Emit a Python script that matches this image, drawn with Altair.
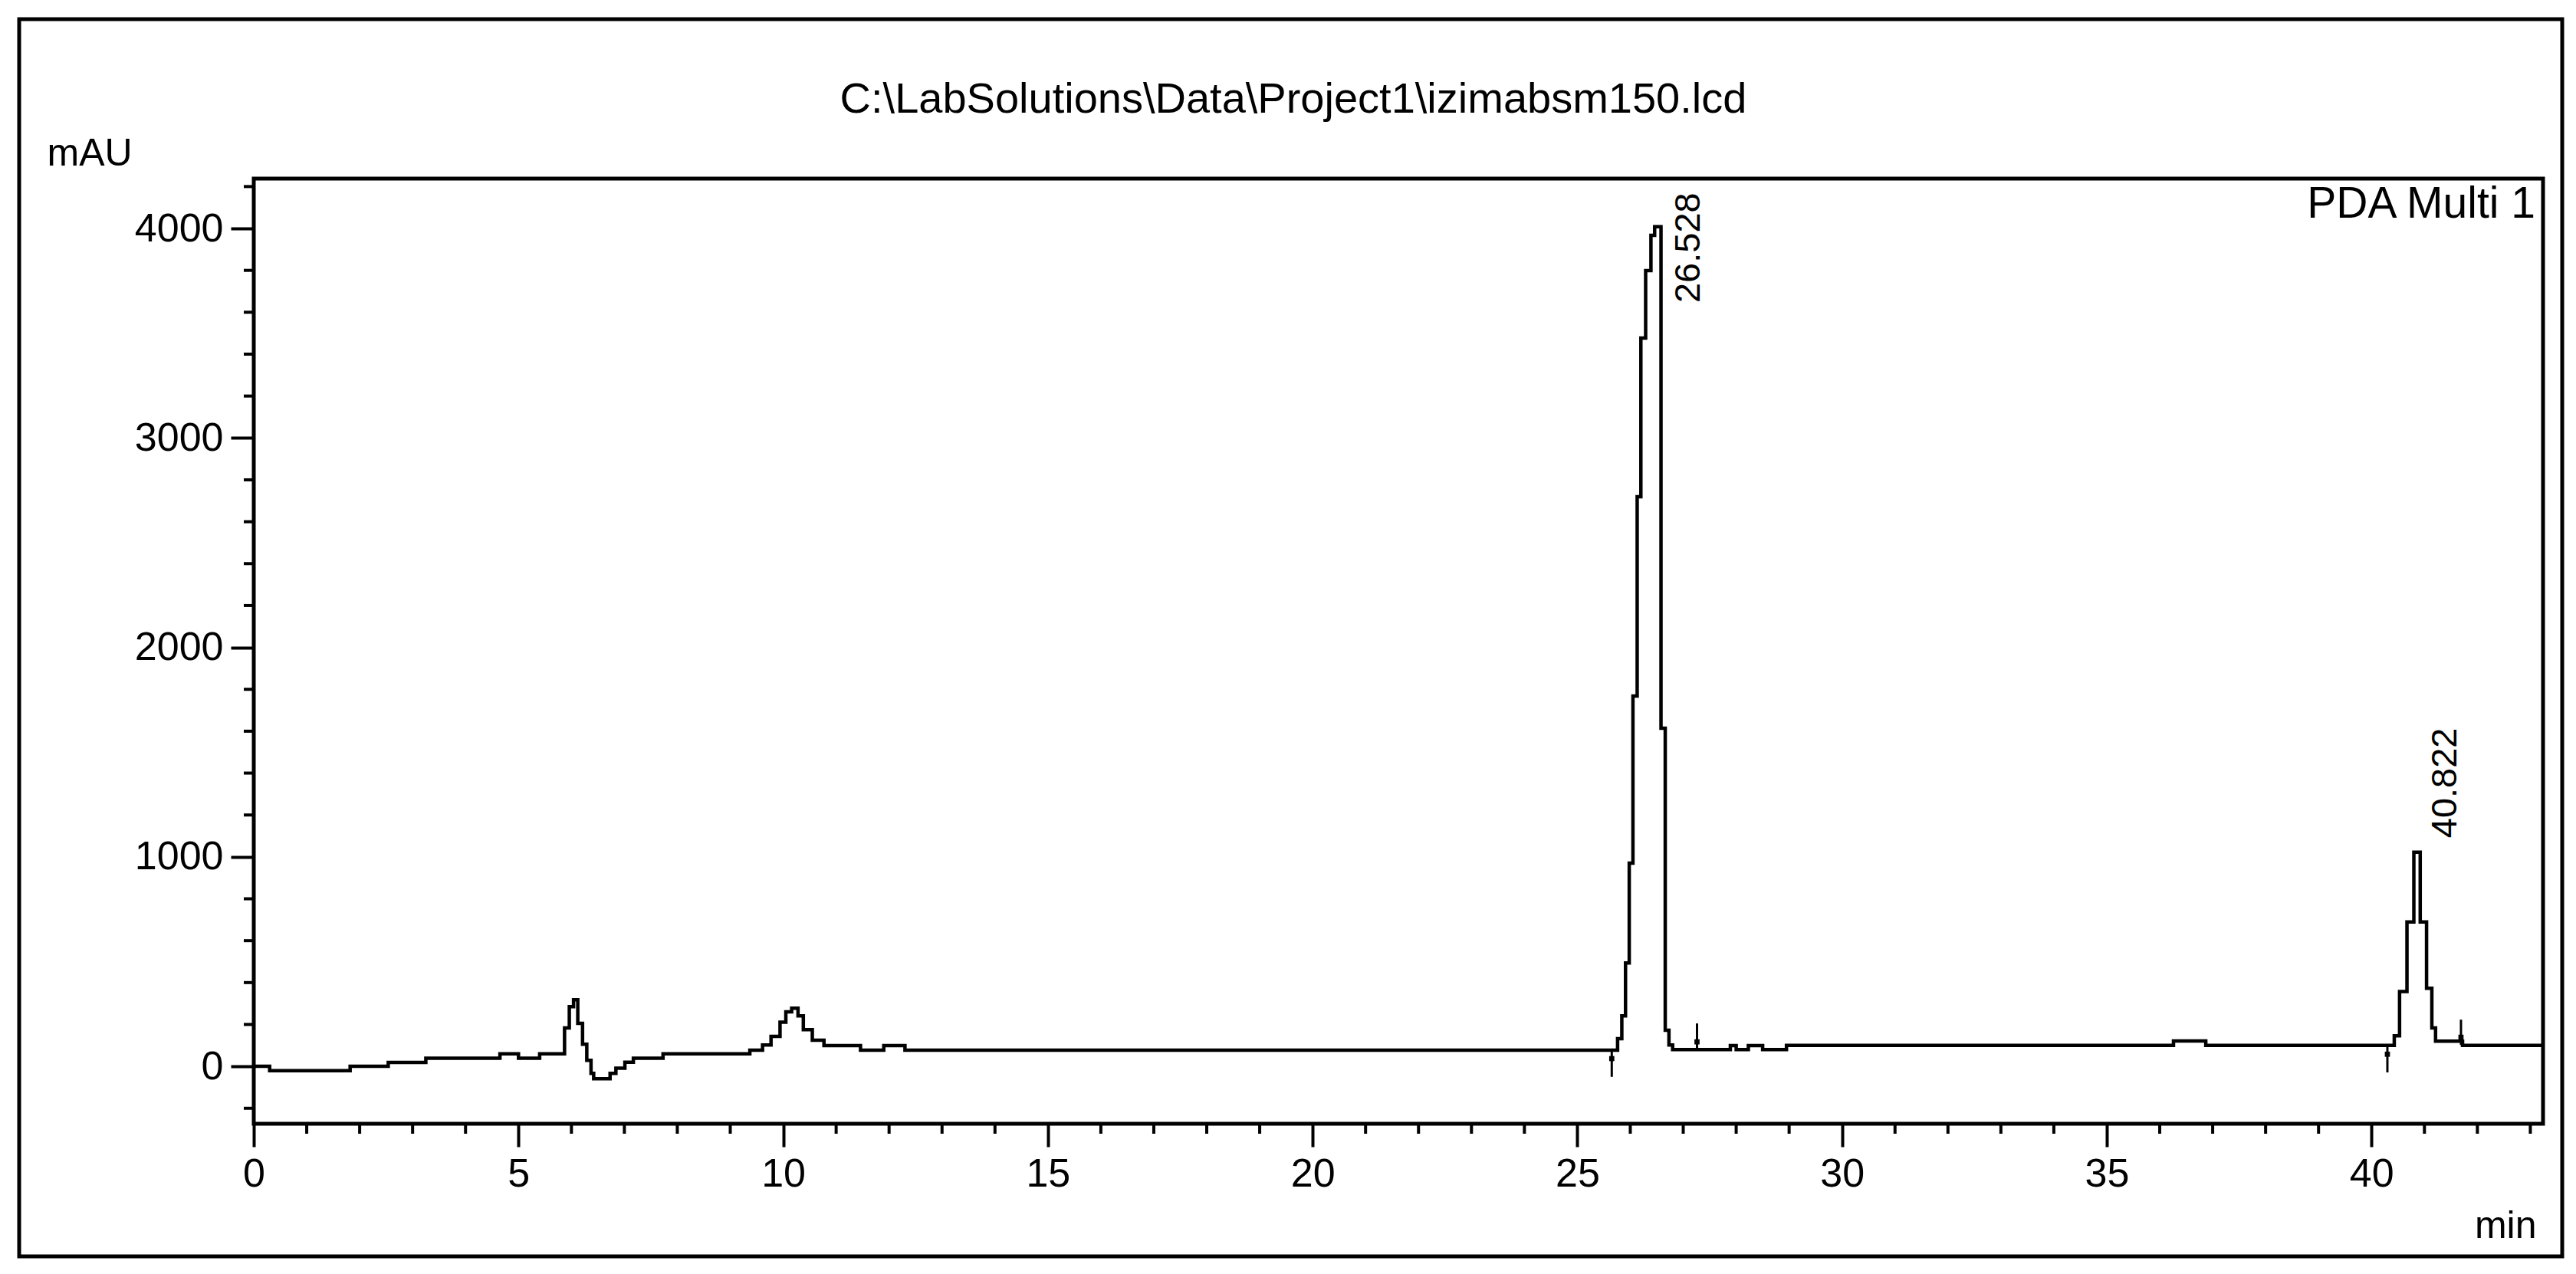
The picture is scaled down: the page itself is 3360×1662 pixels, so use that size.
import altair as alt
import pandas as pd

FONT = "Liberation Sans"

# ---- chromatogram trace (step-after): retention time [min], absorbance [mAU]
trace_t = [0.00, 0.30, 1.82, 2.54, 3.25, 4.65, 5.00, 5.40, 5.87, 5.96,
           6.04, 6.12, 6.21, 6.29, 6.37, 6.42, 6.73, 6.84, 7.01, 7.17,
           7.73, 9.37, 9.61, 9.77, 9.94, 10.05, 10.16, 10.28, 10.38, 10.55,
           10.77, 11.46, 11.90, 12.30,
           25.76, 25.84, 25.91, 25.98, 26.05, 26.13, 26.20, 26.29, 26.39, 26.46,
           26.58, 26.66, 26.73, 26.80,
           27.89, 28.00, 28.23, 28.50, 28.95, 36.26, 36.87,
           40.43, 40.53, 40.67, 40.80, 40.92, 41.04, 41.14, 41.21, 41.72, 43.24]
trace_v = [0, -21, 0, 19, 39, 60, 39, 60, 183, 285,
           318, 205, 106, 29, -33, -59, -33, -9, 20, 39,
           60, 77, 102, 143, 211, 260, 278, 241, 175, 125,
           99, 77, 99, 77,
           132, 241, 494, 970, 1768, 2719, 3477, 3799, 3967, 4008,
           1614, 172, 102, 80,
           99, 80, 99, 80, 100, 121, 100,
           146, 357, 689, 1022, 689, 373, 183, 120, 100, 100]

# ---- peak integration markers (start / end)
mark_t = [25.65, 27.26, 40.30, 41.69]
mark_base = [80, 80, 102, 102]
mark_end = [-50, 205, -29, 223]
mark_sq = [37, 117, 58, 139]

# ---- peak labels
peak_rt = [26.528, 40.822]
peak_text = ["26.528", "40.822"]
peak_label_y = [3645, 1090]

# ---- axes
x_major = [0, 5, 10, 15, 20, 25, 30, 35, 40]
x_minor = [v for v in range(0, 44) if v % 5 != 0]
y_major = [0, 1000, 2000, 3000, 4000]
y_minor = [v for v in range(-200, 4201, 200) if v % 1000 != 0]
x_domain = [0, 43.24]
y_domain = [-274, 4238]

title_text = "C:\\LabSolutions\\Data\\Project1\\izimabsm150.lcd"
channel_text = "PDA Multi 1"
y_unit = "mAU"
x_unit = "min"

W, H = 2986, 1233

xs = alt.Scale(domain=x_domain, nice=False, zero=False)
ys = alt.Scale(domain=y_domain, nice=False, zero=False)

x_axis = alt.Axis(
    values=x_major, tickSize=30, tickWidth=4, tickColor="black",
    labelFontSize=52, labelPadding=10, labelFont=FONT, labelColor="black",
    labelBaseline="top", labelFlush=False, domain=False, grid=False, format="d",
    title=x_unit, titleFont=FONT, titleFontSize=50, titleFontWeight="normal",
    titleColor="black", titleAnchor="end", titleAlign="right",
    titleBaseline="alphabetic", titleX=2977, titleY=148)
y_axis = alt.Axis(
    values=y_major, tickSize=30, tickWidth=4, tickColor="black",
    labelFontSize=52, labelPadding=10, labelFont=FONT, labelColor="black",
    labelFlush=False, domain=False, grid=False, format="d",
    title=y_unit, titleFont=FONT, titleFontSize=50, titleFontWeight="normal",
    titleColor="black", titleAngle=0, titleAlign="left",
    titleBaseline="alphabetic", titleX=-270, titleY=-18)

trace_df = pd.DataFrame({"t": trace_t, "v": trace_v})
marks_df = pd.DataFrame({"t": mark_t, "v": mark_base, "e": mark_end, "s": mark_sq})
peaks_df = pd.DataFrame({"t": peak_rt, "v": peak_label_y, "label": peak_text})
one = pd.DataFrame({"k": [0]})

trace = alt.Chart(trace_df).mark_line(
    interpolate="step-after", color="black", strokeWidth=4.5
).encode(
    x=alt.X("t:Q", scale=xs, axis=x_axis),
    y=alt.Y("v:Q", scale=ys, axis=y_axis),
)

minor_x_rules = alt.Chart(pd.DataFrame({"t": x_minor})).mark_rule(
    color="black", strokeWidth=4
).encode(
    x=alt.X("t:Q", scale=xs, axis=x_axis),
    y=alt.value(H), y2=alt.value(H + 13),
)

minor_y_rules = alt.Chart(pd.DataFrame({"v": y_minor})).mark_rule(
    color="black", strokeWidth=4
).encode(
    y=alt.Y("v:Q", scale=ys, axis=y_axis),
    x=alt.value(-13), x2=alt.value(0),
)

marker_rules = alt.Chart(marks_df).mark_rule(color="black", strokeWidth=3).encode(
    x=alt.X("t:Q", scale=xs, axis=x_axis),
    y=alt.Y("v:Q", scale=ys, axis=y_axis),
    y2="e:Q",
)
marker_sq = alt.Chart(marks_df).mark_square(color="black", size=45, opacity=1).encode(
    x=alt.X("t:Q", scale=xs, axis=x_axis),
    y=alt.Y("s:Q", scale=ys, axis=y_axis),
)

peak_labels = alt.Chart(peaks_df).mark_text(
    angle=270, align="left", baseline="middle", dy=40,
    fontSize=47, font=FONT, color="black"
).encode(
    x=alt.X("t:Q", scale=xs, axis=x_axis),
    y=alt.Y("v:Q", scale=ys, axis=y_axis),
    text="label:N",
)

title = alt.Chart(one).mark_text(
    align="center", baseline="alphabetic", fontSize=56, font=FONT, color="black"
).encode(x=alt.value(1356), y=alt.value(-86), text=alt.value(title_text))

channel = alt.Chart(one).mark_text(
    align="right", baseline="alphabetic", fontSize=57, font=FONT, color="black"
).encode(x=alt.value(2976), y=alt.value(51), text=alt.value(channel_text))

frame = alt.Chart(one).mark_rect(
    filled=False, stroke="black", strokeWidth=5, fillOpacity=0
).encode(x=alt.value(-306), x2=alt.value(3011), y=alt.value(-208), y2=alt.value(1406))

chart = alt.layer(
    frame, trace, minor_x_rules, minor_y_rules, marker_rules, marker_sq,
    peak_labels, title, channel
).properties(
    width=W, height=H,
    autosize=alt.AutoSizeParams(type="none"),
    padding={"left": 323, "top": 225, "right": 32, "bottom": 176},
    background="white",
).configure_view(stroke="black", strokeWidth=5)

chart.save("out.html", embed_options={"renderer": "svg", "actions": False})
